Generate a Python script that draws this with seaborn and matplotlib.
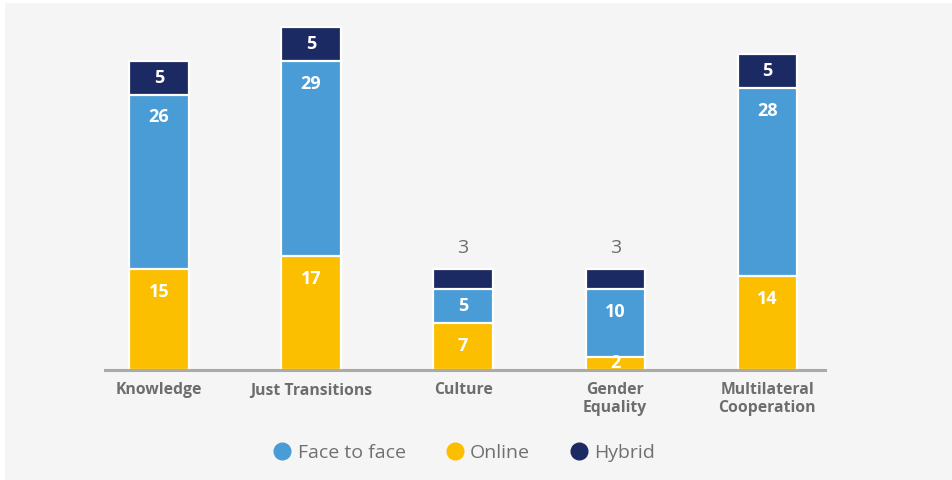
import matplotlib
matplotlib.use("Agg")
import matplotlib.pyplot as plt
from matplotlib.patches import Rectangle
from matplotlib.lines import Line2D
import seaborn as sns
import pandas as pd
import numpy as np

categories = ["Knowledge", "Just Transitions", "Culture", "Gender\nEquality", "Multilateral\nCooperation"]
online = [15, 17, 7, 2, 14]
face_to_face = [26, 29, 5, 10, 28]
hybrid = [5, 5, 3, 3, 5]

C_FACE = "#4a9cd6"
C_ONLINE = "#fbbf00"
C_HYBRID = "#1b2a63"
BG = "#f5f5f5"
GRAY_TXT = "#6d6d6d"

sns.set_theme(style="white")
plt.rcParams["font.family"] = ["Open Sans", "DejaVu Sans"]

fig = plt.figure(figsize=(9.52, 4.8), dpi=100, facecolor="white")
fig.patches.append(Rectangle((5 / 952, 0), 1, 1 - 3 / 480, transform=fig.transFigure,
                             facecolor=BG, edgecolor="none", zorder=-10))
ax = fig.add_axes([105 / 952, 110 / 480, 720 / 952, 350 / 480])
ax.set_facecolor("none")

df = pd.DataFrame({"cat": categories, "online": online, "face": face_to_face, "hybrid": hybrid})
df["t1"] = df["online"]
df["t2"] = df["online"] + df["face"]
df["t3"] = df["t2"] + df["hybrid"]

w = 0.39
for col, color in [("t3", C_HYBRID), ("t2", C_FACE), ("t1", C_ONLINE)]:
    sns.barplot(data=df, x="cat", y=col, color=color, width=w, ax=ax,
                edgecolor="white", linewidth=1.6, saturation=1, errorbar=None)

def seg_label(x, bottom, top, val):
    center = (bottom + top) / 2
    y = max(center, top - 3.4)
    ax.text(x, y, str(val), ha="center", va="center", color="white",
            fontsize=13, fontweight="bold")

for i in range(len(categories)):
    b1, t1 = 0, online[i]
    b2, t2 = t1, t1 + face_to_face[i]
    b3, t3 = t2, t2 + hybrid[i]
    seg_label(i, b1, t1, online[i])
    seg_label(i, b2, t2, face_to_face[i])
    if hybrid[i] >= 4 or t3 > 20:
        ax.text(i, (b3 + t3) / 2, str(hybrid[i]), ha="center", va="center",
                color="white", fontsize=13, fontweight="bold")
    else:
        ax.text(i, t3 + 3.2, str(hybrid[i]), ha="center", va="center",
                color=GRAY_TXT, fontsize=14)

ax.set_xlim(-0.355, 4.38)
ax.set_ylim(0, 52.1)
ax.set_xlabel("")
ax.set_ylabel("")
ax.set_yticks([])
for s in ["top", "right", "left"]:
    ax.spines[s].set_visible(False)
ax.spines["bottom"].set_color("#aaaaaa")
ax.spines["bottom"].set_linewidth(2.2)
ax.spines["bottom"].set_zorder(5)
ax.tick_params(axis="x", length=0, pad=9, colors=GRAY_TXT)
for lbl in ax.get_xticklabels():
    lbl.set_fontweight("bold")
    lbl.set_fontsize(11.3)
    lbl.set_color(GRAY_TXT)
    lbl.set_linespacing(1.1)

handles = [Line2D([], [], marker="o", linestyle="none", markersize=12, color=c, label=l)
           for c, l in [(C_FACE, "Face to face"), (C_ONLINE, "Online"), (C_HYBRID, "Hybrid")]]
leg = fig.legend(handles=handles, loc="center", bbox_to_anchor=(464 / 952, 1 - 453 / 480),
                 ncol=3, frameon=False, fontsize=14, handlelength=1.0, handletextpad=0.3,
                 columnspacing=2.0, labelcolor="#707070")

fig.savefig("out.png", dpi=100, facecolor=fig.get_facecolor())
